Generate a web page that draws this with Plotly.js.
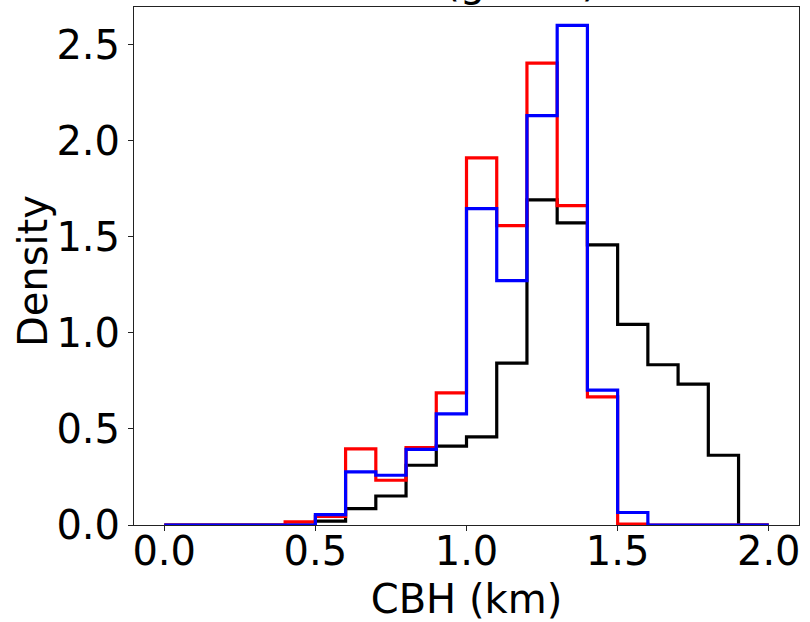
<!DOCTYPE html>
<html>
<head>
<meta charset="utf-8">
<script src="https://cdn.plot.ly/plotly-3.0.1.min.js"></script>
<style>html,body{margin:0;padding:0;background:#fff;}#chart{width:810px;height:622px;}</style>
</head>
<body>
<div id="chart"></div>
<script>
// Bin edges (km)
const binEdges = [0.0,0.1,0.2,0.3,0.4,0.5,0.6,0.7,0.8,0.9,1.0,1.1,1.2,1.3,1.4,1.5,1.6,1.7,1.8,1.9,2.0];
// Density per bin (20 bins)
const blackDensity = [0,0,0,0,0,0.02,0.085,0.151,0.311,0.41,0.459,0.843,1.692,1.572,1.458,1.044,0.834,0.733,0.363,0];
const redDensity   = [0,0,0,0,0.016,0.045,0.396,0.233,0.403,0.688,1.911,1.558,2.404,1.662,0.667,0.005,0,0,0,0];
const blueDensity  = [0,0,0,0,0,0.054,0.276,0.259,0.394,0.578,1.647,1.272,2.131,2.600,0.702,0.065,0,0,0,0];
const xTicks = [0.0,0.5,1.0,1.5,2.0];
const yTicks = [0.0,0.5,1.0,1.5,2.0,2.5];
const titleText = 'Total (global)';
const yTitleText = 'Density';

function stepTrace(vals, color) {
  const x = [binEdges[0]].concat(binEdges);
  const y = [0].concat(vals).concat([0]);
  return {x: x, y: y, type: 'scatter', mode: 'lines',
          line: {shape: 'hv', color: color, width: 3.2}, hoverinfo: 'skip', showlegend: false};
}

const data = [stepTrace(blackDensity, '#000000'), stepTrace(redDensity, '#ff0000'), stepTrace(blueDensity, '#0000ff')];

const font = {family: 'DejaVu Sans, sans-serif', size: 40, color: '#000'};
const layout = {
  width: 810, height: 622,
  margin: {l: 134, r: 11, t: 7, b: 97, pad: 0},
  paper_bgcolor: '#fff', plot_bgcolor: '#fff',
  font: font,
  showlegend: false,
  xaxis: {
    range: [-0.1, 2.1], tickvals: xTicks, tickformat: '.1f',
    ticks: 'outside', ticklen: 5, tickwidth: 1, tickcolor: '#222',
    ticklabelstandoff: -14,
    showline: true, linecolor: '#222', linewidth: 1, mirror: true,
    showgrid: false, zeroline: false,
    tickfont: font,
    title: {text: 'CBH (km)', font: font, standoff: 15}
  },
  yaxis: {
    range: [0, 2.696], tickvals: yTicks, tickformat: '.1f',
    ticks: 'outside', ticklen: 5, tickwidth: 1, tickcolor: '#222',
    showline: true, linecolor: '#222', linewidth: 1, mirror: true,
    showgrid: false, zeroline: false,
    tickfont: font
  },
  annotations: [{
    text: titleText, xref: 'paper', yref: 'paper', x: 0.5, y: 1, yanchor: 'bottom',
    yshift: 0, showarrow: false, font: font
  }, {
    text: yTitleText, xref: 'paper', yref: 'paper', x: -0.152, y: 0.49,
    xanchor: 'center', yanchor: 'middle', textangle: -90, showarrow: false, font: font
  }]
};

Plotly.newPlot('chart', data, layout, {displayModeBar: false, staticPlot: true});
</script>
</body>
</html>
